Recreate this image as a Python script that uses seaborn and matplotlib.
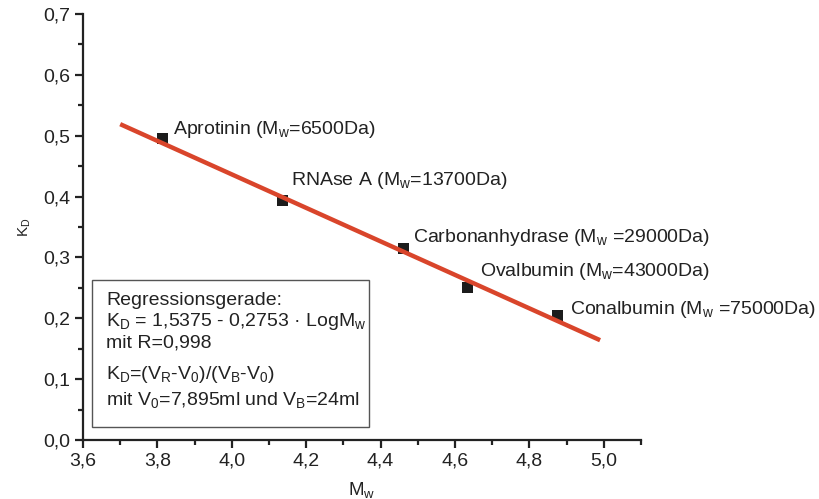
import matplotlib
matplotlib.use("Agg")
import matplotlib.pyplot as plt
import matplotlib.ticker as mticker
from matplotlib.patches import Rectangle
import seaborn as sns
import pandas as pd

# ---- data ----
proteins = ["Aprotinin", "RNAse A", "Carbonanhydrase", "Ovalbumin", "Conalbumin"]
mw_da = [6500, 13700, 29000, 43000, 75000]
log_mw = [3.813, 4.137, 4.462, 4.633, 4.875]
kd = [0.496, 0.394, 0.315, 0.251, 0.205]
point_labels = [
    "Aprotinin (M$_\\mathrm{w}$=6500Da)",
    "RNAse A (M$_\\mathrm{w}$=13700Da)",
    "Carbonanhydrase (M$_\\mathrm{w}$ =29000Da)",
    "Ovalbumin (M$_\\mathrm{w}$=43000Da)",
    "Conalbumin (M$_\\mathrm{w}$ =75000Da)",
]
line_x = [3.70, 4.99]
line_y = [0.519, 0.164]
x_ticks = [3.6, 3.8, 4.0, 4.2, 4.4, 4.6, 4.8, 5.0]
x_ticklabels = ["3,6", "3,8", "4,0", "4,2", "4,4", "4,6", "4,8", "5,0"]
y_ticks = [0.0, 0.1, 0.2, 0.3, 0.4, 0.5, 0.6, 0.7]
y_ticklabels = ["0,0", "0,1", "0,2", "0,3", "0,4", "0,5", "0,6", "0,7"]
box_lines = [
    "Regressionsgerade:",
    "K$_\\mathrm{D}$ = 1,5375 - 0,2753 · LogM$_\\mathrm{w}$",
    "mit R=0,998",
    "K$_\\mathrm{D}$=(V$_\\mathrm{R}$-V$_\\mathrm{0}$)/(V$_\\mathrm{B}$-V$_\\mathrm{0}$)",
    "mit V$_\\mathrm{0}$=7,895ml und V$_\\mathrm{B}$=24ml",
]

df = pd.DataFrame({"logmw": log_mw, "kd": kd, "protein": proteins})
df_line = pd.DataFrame({"x": line_x, "y": line_y})

sns.set_style("white")
plt.rcParams["font.family"] = ["Liberation Sans", "DejaVu Sans"]
plt.rcParams["mathtext.fontset"] = "custom"
plt.rcParams["mathtext.rm"] = "Liberation Sans"
plt.rcParams["mathtext.it"] = "Liberation Sans:italic"
plt.rcParams["mathtext.bf"] = "Liberation Sans:bold"

TXT = "#222222"
FS = 14

fig = plt.figure(figsize=(8.19, 4.99), dpi=100)
ax = fig.add_axes([83 / 819, 1 - 440 / 499, 558 / 819, 426 / 499])

sns.scatterplot(data=df, x="logmw", y="kd", marker="s", s=60, color="#1c1c1c",
                edgecolor="none", ax=ax, zorder=3, legend=False)
sns.lineplot(data=df_line, x="x", y="y", color="#d9452b", linewidth=3.2, ax=ax,
             zorder=4, solid_capstyle="butt")

offsets = [(8, 6), (6, 14), (7, 8), (9, 11), (9, 4)]
for x, y, lab, off in zip(log_mw, kd, point_labels, offsets):
    ax.annotate(lab, xy=(x, y), xytext=off, textcoords="offset points",
                ha="left", va="center", fontsize=FS, color=TXT, zorder=5)

ax.set_xlim(3.6, 5.1)
ax.set_ylim(0.0, 0.7)
ax.set_xticks(x_ticks)
ax.set_xticklabels(x_ticklabels)
ax.set_yticks(y_ticks)
ax.set_yticklabels(y_ticklabels)
ax.xaxis.set_minor_locator(mticker.MultipleLocator(0.1))
ax.yaxis.set_minor_locator(mticker.MultipleLocator(0.05))
ax.tick_params(axis="both", which="major", direction="out", length=6, width=1.6,
               color=TXT, labelsize=FS, labelcolor=TXT, pad=3)
ax.tick_params(axis="both", which="minor", direction="out", length=3.5, width=1.6,
               color=TXT)
ax.tick_params(axis="x", which="both", bottom=True)
ax.tick_params(axis="y", which="both", left=True)

for side in ["top", "right"]:
    ax.spines[side].set_visible(False)
for side in ["left", "bottom"]:
    ax.spines[side].set_color(TXT)
    ax.spines[side].set_linewidth(1.6)

ax.set_xlabel("M$_\\mathrm{w}$", fontsize=13.5, color=TXT)
ax.set_ylabel("K$_\\mathrm{D}$", fontsize=11, color=TXT)
ax.xaxis.set_label_coords(0.5, -0.094)
ax.yaxis.set_label_coords(-0.09, 0.5)

# text box
ax.add_patch(Rectangle((0.016, 0.0305), 0.4965, 0.345, transform=ax.transAxes,
                       fill=True, facecolor="white", edgecolor="#555555",
                       linewidth=1.0, zorder=2))
box_y = [0.3286, 0.277, 0.2277, 0.1526, 0.0939]
for t, yy in zip(box_lines, box_y):
    ax.text(0.041, yy, t, transform=ax.transAxes, ha="left", va="center",
            fontsize=FS, color=TXT, zorder=3)

fig.savefig("out.png", dpi=100)
